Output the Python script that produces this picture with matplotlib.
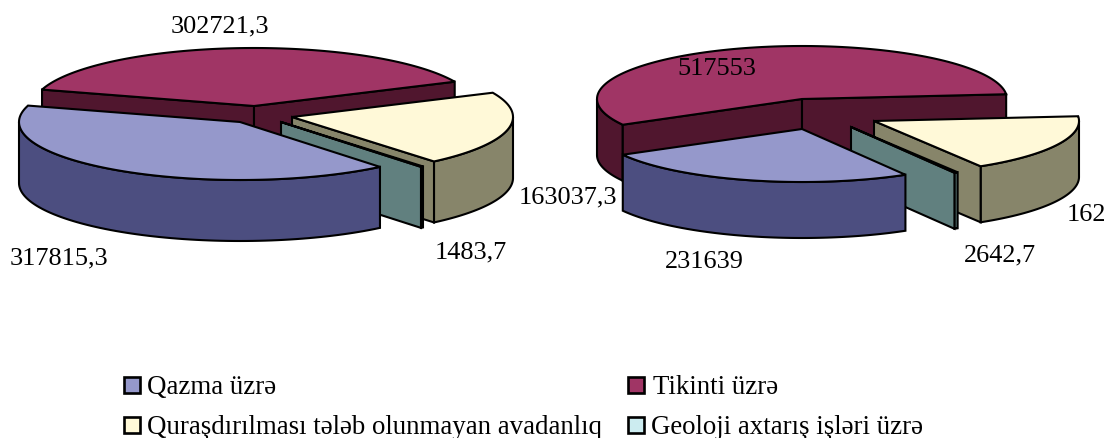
import numpy as np
import matplotlib
matplotlib.use("Agg")
import matplotlib.pyplot as plt
from matplotlib.patches import Polygon, Rectangle

plt.rcParams['font.family'] = ['Liberation Serif', 'DejaVu Serif']

categories = ["Qazma üzrə", "Tikinti üzrə", "Quraşdırılması tələb olunmayan avadanlıq", "Geoloji axtarış işləri üzrə"]
left_values = [317815.3, 302721.3, 163037.3, 1483.7]
right_values = [231639, 517553, 162000, 2642.7]  # third one is cut off in the picture, estimated
left_labels = ["317815,3", "302721,3", "163037,3", "1483,7"]
right_labels = ["231639", "517553", "162", "2642,7"]

top_colors = ["#9598CB", "#A03565", "#FFF9D8", "#CCECF0"]
side_colors = ["#4C4E80", "#50162E", "#87856A", "#61807F"]

# slice apex in pixels, per category
left_centres = [(240, 123), (254, 107), (292, 118), (281, 123)]
right_centres = [(802, 130), (802, 100), (874, 122), (851, 128)]
left_label_pos = [(59, 258), (220, 26), (568, 197), (471, 252)]
right_label_pos = [(704, 262), (717, 69), (1086, 215), (1000, 255)]

lw = 1.5


def rim(c, rx, ry, t):
    t = np.radians(t)
    return np.column_stack([c[0] + rx * np.cos(t), c[1] - ry * np.sin(t)])


def draw_slice(ax, c, hi, lo, rx, ry, h, top, side, z):
    # outer wall, only the part turned to the viewer
    for a, b in [(0, -180), (-360, -540)]:
        s, e = min(hi, a), max(lo, b)
        if s > e:
            arc = rim(c, rx, ry, np.linspace(s, e, 80))
            wall = np.vstack([arc, (arc + [0, h])[::-1]])
            ax.add_patch(Polygon(wall, fc=side, ec="black", lw=lw, zorder=z, joinstyle="miter"))
    # cut faces
    for t, show in [(hi, np.cos(np.radians(hi)) < 0), (lo, np.cos(np.radians(lo)) > 0)]:
        if show:
            p = rim(c, rx, ry, [t])[0]
            face = [c, p, (p[0], p[1] + h), (c[0], c[1] + h)]
            ax.add_patch(Polygon(face, fc=side, ec="black", lw=lw, zorder=z, joinstyle="miter"))
    arc = rim(c, rx, ry, np.linspace(hi, lo, 120))
    ax.add_patch(Polygon(np.vstack([[c], arc]), fc=top, ec="black", lw=lw, zorder=z, joinstyle="miter"))


def draw_pie(ax, values, start, centres, rx, ry, h):
    values = np.array(values, dtype=float)
    edges = start - np.concatenate([[0], np.cumsum(values / values.sum() * 360)])
    # back to front
    for z, i in enumerate([1, 2, 3, 0]):
        draw_slice(ax, centres[i], edges[i], edges[i + 1], rx, ry, h,
                   top_colors[i], side_colors[i], z + 2)


fig = plt.figure(figsize=(11.07, 4.39), dpi=100)
ax = fig.add_axes([0, 0, 1, 1])
ax.set_xlim(0, 1107)
ax.set_ylim(439, 0)
ax.axis("off")

draw_pie(ax, left_values, -50.7, left_centres, 221, 58, 61)
draw_pie(ax, right_values, -59.7, right_centres, 205, 53, 56)

for labels, pos in [(left_labels, left_label_pos), (right_labels, right_label_pos)]:
    for lab, (x, y) in zip(labels, pos):
        ax.text(x, y, lab, fontsize=18.9, ha="center", va="center", zorder=10)

# legend
legend_x = [132, 636, 132, 636]
legend_y = [386, 386, 426, 426]
legend_text_x = [147, 653, 147, 651]
for i, name in enumerate(categories):
    ax.add_patch(Rectangle((legend_x[i] - 8, legend_y[i] - 8), 16, 16, fc=top_colors[i], ec="black", lw=1.9))
    ax.text(legend_text_x[i], legend_y[i] + 2, name, fontsize=19.4, ha="left", va="center")

fig.savefig("out.png", dpi=100)
